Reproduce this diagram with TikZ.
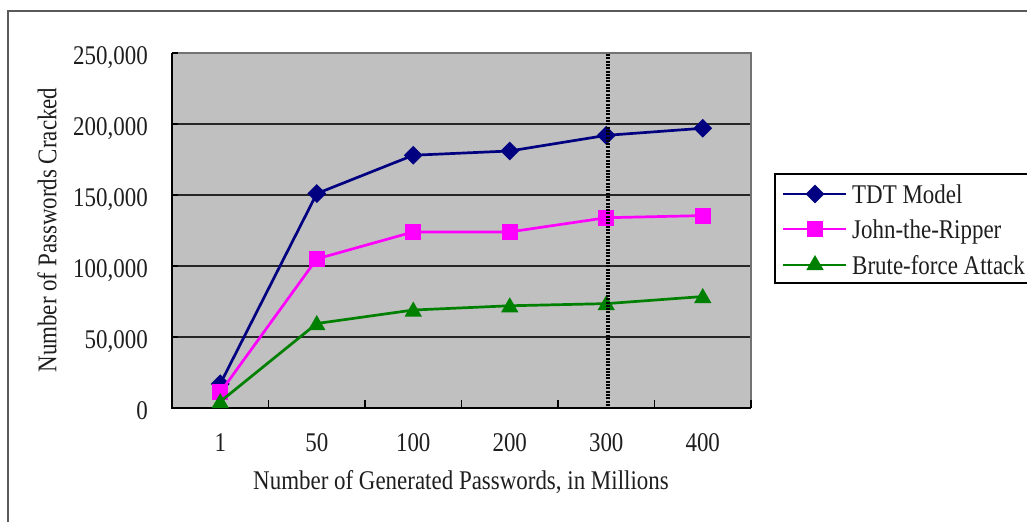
\documentclass[tikz,border=0pt]{standalone}
\usepackage{fontspec}
\setmainfont{Liberation Serif}[FakeStretch=0.85]
\usetikzlibrary{shapes.geometric}
\definecolor{plotbg}{HTML}{C0C0C0}
\definecolor{tdtcol}{HTML}{000080}
\definecolor{jtrcol}{HTML}{FF00FF}
\definecolor{bfcol}{HTML}{008000}
\definecolor{framecol}{HTML}{5A5A5A}
\definecolor{textcol}{HTML}{1E1E1E}
\tikzset{
  lbl/.style={font=\fontsize{27}{31}\selectfont, text=textcol, inner sep=0pt},
  gridline/.style={draw=black!85, line width=1.3pt},
  axisline/.style={draw=black, line width=2.6pt},
  tickmark/.style={draw=black, line width=1.3pt},
  series/.style={line width=2.7pt, line join=round},
  dmark/.style={diamond, fill=tdtcol, minimum size=19pt, inner sep=0pt},
  smark/.style={rectangle, fill=jtrcol, minimum size=16pt, inner sep=0pt},
  tmark/.style={regular polygon, regular polygon sides=3, fill=bfcol, minimum size=20pt, inner sep=0pt},
  cutline/.style={draw=black, line width=3.2pt, dash pattern=on 2pt off 1.3pt},
}
\begin{document}
\begin{tikzpicture}[x=1pt, y=-1pt,
  declare function={py(\v)=408-1.42*\v; px(\i)=172+96.5*(\i-0.5);}]
\useasboundingbox (0,0) rectangle (1027,522);
\fill[white] (0,0) rectangle (1027,522);

% outer chart frame (left and top edges)
\draw[framecol, line width=2pt] (8,522) -- (8,11) -- (1027,11);

% plot area
\fill[plotbg] (172,53) rectangle (751,408);
\foreach \v in {50,100,150,200}
  \draw[gridline] (172,{py(\v)}) -- (751,{py(\v)});
\draw[draw=black!55, line width=2.5pt] (172,53) -- (751,53) -- (751,408);
\draw[axisline] (172,53) -- (172,408) -- (751,408);
\foreach \v in {0,50,...,250}
  \draw[tickmark] (172,{py(\v)}) -- (178,{py(\v)});
\foreach \k in {1,...,6}
  \draw[tickmark] ({172+96.5*\k},408) -- ({172+96.5*\k},400);

% value axis labels
\foreach \v/\t in {0/0,50/{50,000},100/{100,000},150/{150,000},200/{200,000},250/{250,000}}
  \node[lbl, anchor=base east] (ylab\v) at (148,{py(\v)+11}) {\t};
% category axis labels
\foreach \i/\t in {1/1,2/50,3/100,4/200,5/300,6/400}
  \node[lbl, anchor=base] (xlab\i) at ({px(\i)},451) {\t};

% axis titles
\node[lbl, anchor=base] (xtitle) at (461,489) {Number of Generated Passwords, in Millions};
\node[lbl, rotate=90] (ytitle) at (47,230) {Number of Passwords Cracked};

% data points (values in thousands)
\foreach \i/\v in {1/17,2/151,3/178,4/181,5/192,6/197}
  \coordinate (t\i) at ({px(\i)},{py(\v)});
\foreach \i/\v in {1/11,2/105,3/124,4/124,5/134,6/135.5}
  \coordinate (j\i) at ({px(\i)},{py(\v)});
\foreach \i/\v in {1/4.5,2/59.5,3/69,4/72,5/73.5,6/78.5}
  \coordinate (b\i) at ({px(\i)},{py(\v)});

% TDT Model
\draw[series, tdtcol] (t1) -- (t2) -- (t3) -- (t4) -- (t5) -- (t6);
\foreach \i in {1,...,6} \node[dmark] (tm\i) at (t\i) {};
% John-the-Ripper
\draw[series, jtrcol] (j1) -- (j2) -- (j3) -- (j4) -- (j5) -- (j6);
\foreach \i in {1,...,6} \node[smark] (jm\i) at (j\i) {};
% Brute-force Attack
\draw[series, bfcol] (b1) -- (b2) -- (b3) -- (b4) -- (b5) -- (b6);
\foreach \i in {1,...,6} \node[tmark] (bm\i) at ([yshift=-1.5pt]b\i) {};

% marker line at 300 million
\coordinate (cuttop) at (608,54);
\coordinate (cutbot) at (608,407);
\draw[cutline] (cuttop) -- (cutbot);

% legend
\draw[black, line width=1.2pt] (1027,174) -- (775,174) -- (775,283) -- (1027,283);
\foreach \r/\y/\c/\m/\t in {1/194/tdtcol/dmark/TDT Model, 2/229/jtrcol/smark/John-the-Ripper, 3/265/bfcol/tmark/Brute-force Attack}{
  \coordinate (la\r) at (783,\y);
  \coordinate (lb\r) at (846,\y);
  \draw[series, \c] (la\r) -- (lb\r);
  \node[\m] (lm\r) at (815,\y) {};
  \node[lbl, anchor=base west] (lt\r) at (852,{\y+9}) {\t};
}
\end{tikzpicture}
\end{document}
